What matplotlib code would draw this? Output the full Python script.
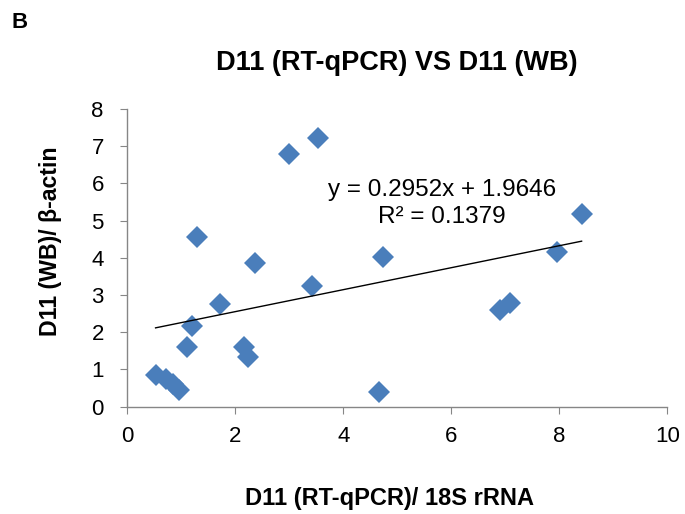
import numpy as np
import matplotlib.pyplot as plt

plt.rcParams['font.family'] = ['Liberation Sans', 'DejaVu Sans']

# valores
rt_qpcr = [0.52, 0.72, 0.85, 0.95, 1.10, 1.20, 1.29, 1.72, 2.15, 2.23, 2.36,
           3.00, 3.42, 3.53, 4.66, 4.74, 6.89, 7.09, 7.96, 8.41]
wb = [0.85, 0.74, 0.60, 0.46, 1.61, 2.16, 4.56, 2.75, 1.61, 1.33, 3.86,
      6.79, 3.24, 7.22, 0.39, 4.02, 2.59, 2.79, 4.16, 5.18]

inclinacao = 0.2952
intercepto = 1.9646
r2 = 0.1379

cinza = '#868686'

fig = plt.figure(figsize=(6.85, 5.14), dpi=100)
ax = fig.add_axes([0.1861, 0.2088, 0.7883, 0.5792])

ax.plot(rt_qpcr, wb, 'D', color='#4a7ebb', markersize=11, markeredgewidth=0)

xs = np.array([min(rt_qpcr), max(rt_qpcr)])
ax.plot(xs, inclinacao * xs + intercepto, '-', color='black', linewidth=1)

ax.text(5.82, 5.83, 'y = %.4fx + %.4f' % (inclinacao, intercepto),
        fontsize=17.5, ha='center', va='center')
ax.text(5.82, 5.1, 'R² = %.4f' % r2, fontsize=17.5, ha='center', va='center')

ax.set_xlim(0, 10)
ax.set_ylim(0, 8)
ax.set_xticks(range(0, 11, 2))
ax.set_yticks(range(0, 9))
for lado in ['top', 'right']:
    ax.spines[lado].set_visible(False)
for lado in ['left', 'bottom']:
    ax.spines[lado].set_color(cinza)
    ax.spines[lado].set_linewidth(1)
ax.tick_params(direction='out', length=5, color=cinza, labelsize=16)
ax.tick_params(axis='y', pad=12)
ax.tick_params(axis='x', pad=9)

fig.text(0.58, 0.878, 'D11 (RT-qPCR) VS D11 (WB)', fontsize=19.5,
         fontweight='bold', ha='center', va='center')
fig.text(0.569, 0.031, 'D11 (RT-qPCR)/ 18S rRNA', fontsize=17,
         fontweight='bold', ha='center', va='center')
fig.text(0.073, 0.53, 'D11 (WB)/ β-actin', fontsize=16.7, fontweight='bold',
         ha='center', va='center', rotation=90)
fig.text(0.029, 0.957, 'B', fontsize=16, fontweight='bold', ha='center', va='center')

fig.savefig('out.png', dpi=100)
